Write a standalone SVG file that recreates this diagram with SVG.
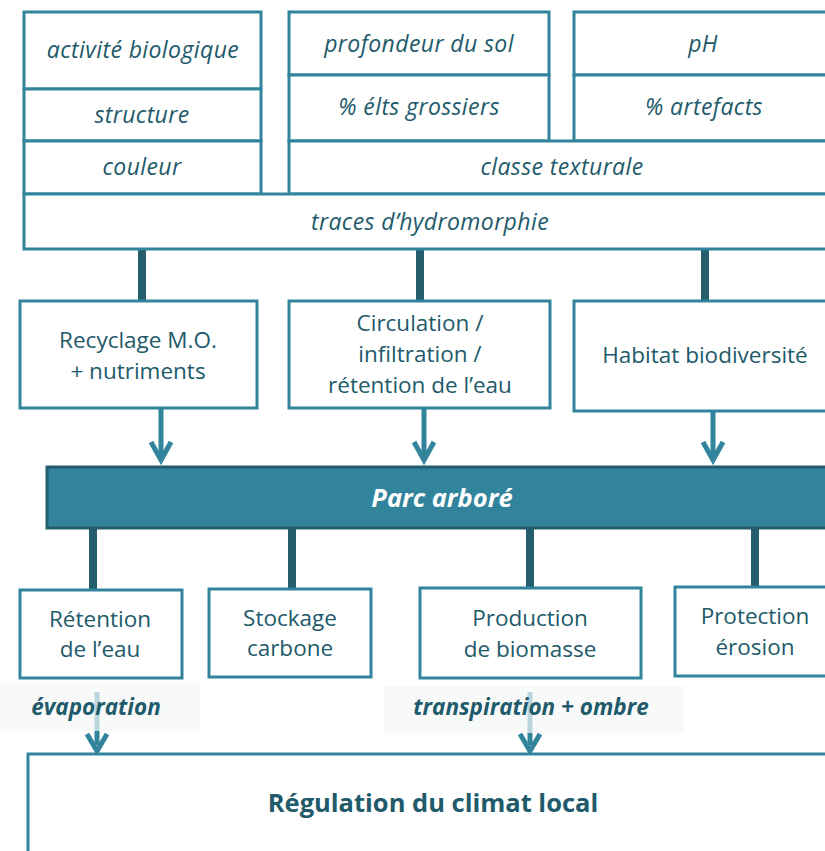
<svg xmlns="http://www.w3.org/2000/svg" width="825" height="851" viewBox="0 0 825 851">
  <style>
    .box { fill: #ffffff; stroke: #31849b; stroke-width: 3; }
    .prop { font-family: "Open Sans", "Liberation Sans", sans-serif; font-style: italic; font-size: 23px; letter-spacing: 0.4px; fill: #215a6a; text-anchor: middle; }
    .svc { font-family: "Open Sans", "Liberation Sans", sans-serif; font-size: 22.5px; fill: #215a6a; text-anchor: middle; }
    .link { stroke: #245e6d; stroke-width: 8; fill: none; }
    .flow { stroke: #31849b; stroke-width: 5; fill: none; }
    .tag { font-family: "Open Sans", "Liberation Sans", sans-serif; font-style: italic; font-weight: bold; font-size: 22.5px; fill: #215a6a; text-anchor: middle; }
    .tagbg { fill: #f5f8f8; fill-opacity: 0.7; }
  </style>

  <rect width="825" height="851" fill="#ffffff"/>

  <!-- connectors -->
  <g id="connectors">
    <line class="link" x1="142" y1="249" x2="142" y2="301"/>
    <line class="link" x1="420" y1="249" x2="420" y2="301"/>
    <line class="link" x1="705" y1="249" x2="705" y2="301"/>

    <line class="flow" x1="161" y1="408" x2="161" y2="458"/>
    <path class="flow" d="M151,442 L161,460 L171,442" stroke-linejoin="miter"/>
    <line class="flow" x1="424" y1="408" x2="424" y2="458"/>
    <path class="flow" d="M414,442 L424,460 L434,442" stroke-linejoin="miter"/>
    <line class="flow" x1="713" y1="411" x2="713" y2="458"/>
    <path class="flow" d="M703,442 L713,460 L723,442" stroke-linejoin="miter"/>

    <line class="link" x1="93" y1="528" x2="93" y2="590"/>
    <line class="link" x1="292" y1="528" x2="292" y2="589"/>
    <line class="link" x1="530" y1="528" x2="530" y2="588"/>
    <line class="link" x1="755" y1="528" x2="755" y2="587"/>

    <line class="flow" x1="97" y1="692" x2="97" y2="745"/>
    <path class="flow" d="M87,734 L97,751 L107,734" stroke-linejoin="miter"/>
    <line class="flow" x1="530" y1="692" x2="530" y2="745"/>
    <path class="flow" d="M520,734 L530,751 L540,734" stroke-linejoin="miter"/>
  </g>

  <!-- soil properties -->
  <g id="soil-properties">
    <rect class="box" x="24" y="12" width="237" height="77"/>
    <rect class="box" x="24" y="89" width="237" height="52"/>
    <rect class="box" x="24" y="141" width="237" height="53"/>
    <rect class="box" x="289" y="12" width="260" height="63"/>
    <rect class="box" x="289" y="75" width="260" height="66"/>
    <rect class="box" x="574" y="12" width="270" height="63"/>
    <rect class="box" x="574" y="75" width="270" height="66"/>
    <rect class="box" x="289" y="141" width="555" height="53"/>
    <rect class="box" x="24" y="194" width="820" height="55"/>
    <text class="prop" x="143" y="58">activité biologique</text>
    <text class="prop" x="142" y="123">structure</text>
    <text class="prop" x="142" y="175">couleur</text>
    <text class="prop" x="419" y="52">profondeur du sol</text>
    <text class="prop" x="419" y="115">% élts grossiers</text>
    <text class="prop" x="703" y="52">pH</text>
    <text class="prop" x="704" y="115">% artefacts</text>
    <text class="prop" x="562" y="175">classe texturale</text>
    <text class="prop" x="430" y="230">traces d’hydromorphie</text>
  </g>

  <!-- soil functions -->
  <g id="recyclage">
    <rect class="box" x="20" y="301" width="237" height="107"/>
    <text class="svc" x="138" y="348">Recyclage M.O.</text>
    <text class="svc" x="138" y="379">+ nutriments</text>
  </g>
  <g id="circulation">
    <rect class="box" x="289" y="301" width="261" height="107"/>
    <text class="svc" x="420" y="331">Circulation /</text>
    <text class="svc" x="420" y="362">infiltration /</text>
    <text class="svc" x="420" y="393">rétention de l’eau</text>
  </g>
  <g id="habitat">
    <rect class="box" x="574" y="301" width="270" height="110"/>
    <text class="svc" x="705" y="363">Habitat biodiversité</text>
  </g>

  <!-- tree stand -->
  <g id="parc-arbore">
    <rect x="47" y="467" width="800" height="61" fill="#31849b" stroke="#245e6d" stroke-width="3"/>
    <text x="442" y="507" font-family="Open Sans, Liberation Sans, sans-serif" font-style="italic" font-weight="bold" font-size="25.5" fill="#ffffff" text-anchor="middle">Parc arboré</text>
  </g>

  <!-- ecosystem services -->
  <g id="retention">
    <rect class="box" x="20" y="590" width="162" height="88"/>
    <text class="svc" x="100" y="627">Rétention</text>
    <text class="svc" x="100" y="657">de l’eau</text>
  </g>
  <g id="stockage">
    <rect class="box" x="209" y="589" width="162" height="88"/>
    <text class="svc" x="290" y="626">Stockage</text>
    <text class="svc" x="290" y="656">carbone</text>
  </g>
  <g id="production">
    <rect class="box" x="420" y="588" width="221" height="90"/>
    <text class="svc" x="530" y="626">Production</text>
    <text class="svc" x="530" y="657">de biomasse</text>
  </g>
  <g id="protection">
    <rect class="box" x="675" y="587" width="170" height="89"/>
    <text class="svc" x="755" y="624">Protection</text>
    <text class="svc" x="755" y="655">érosion</text>
  </g>

  <!-- flow labels -->
  <g id="label-evaporation">
    <rect class="tagbg" x="0" y="683" width="200" height="48"/>
    <text class="tag" x="96" y="715">évaporation</text>
  </g>
  <g id="label-transpiration">
    <rect class="tagbg" x="384" y="686" width="300" height="47"/>
    <text class="tag" x="531" y="715">transpiration + ombre</text>
  </g>

  <!-- local climate -->
  <g id="climat-local">
    <rect class="box" x="28" y="754" width="820" height="110"/>
    <text x="433" y="812" font-family="Open Sans, Liberation Sans, sans-serif" font-weight="bold" font-size="25.5" fill="#215a6a" text-anchor="middle">Régulation du climat local</text>
  </g>
</svg>
